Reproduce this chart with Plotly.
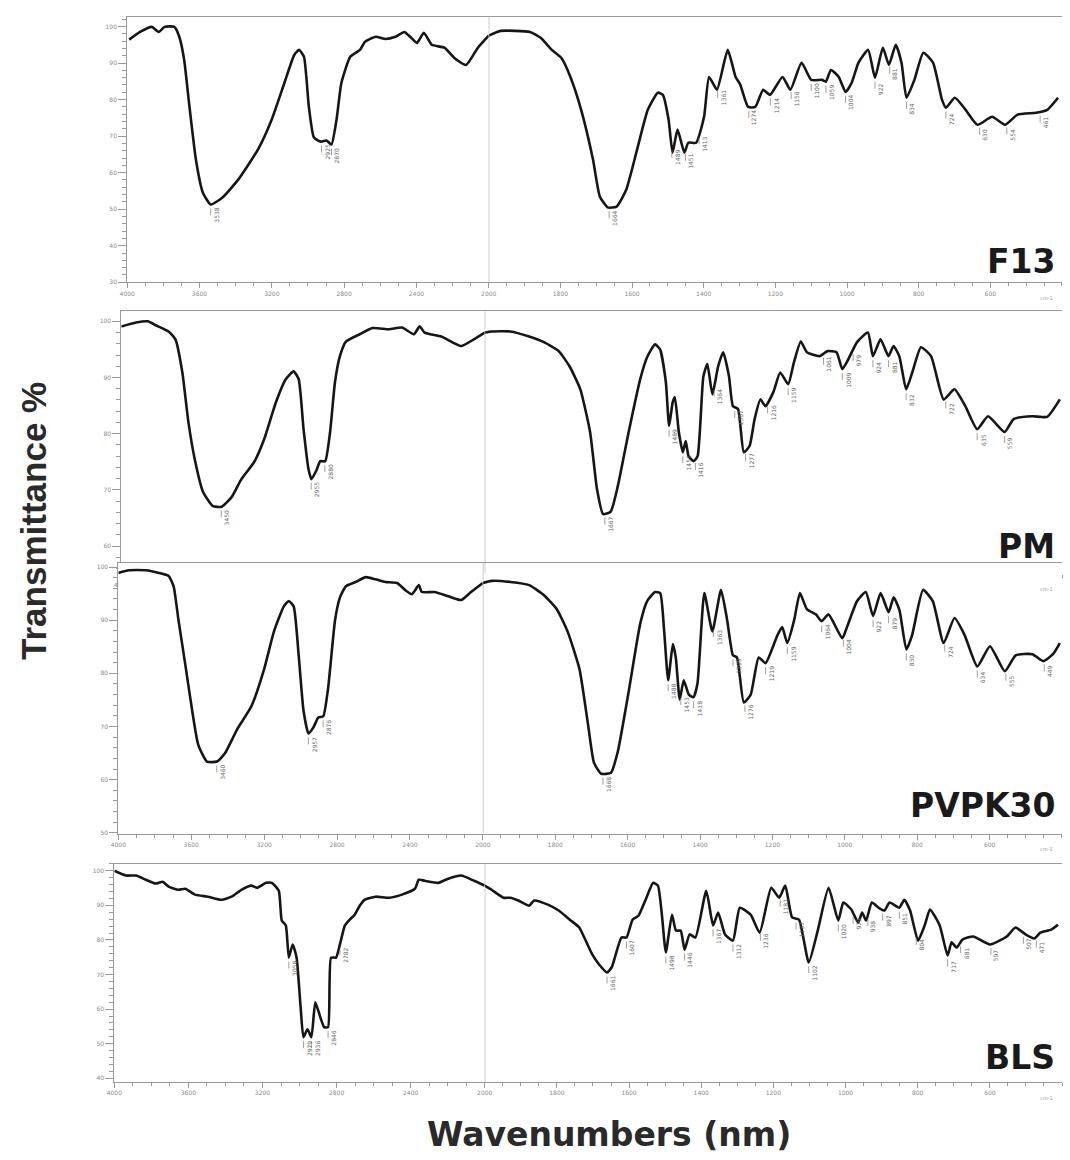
import numpy as np
import plotly.graph_objects as go

# ---------------- data (wavenumber cm-1, transmittance %) ----------------
f13_wn = [3989,3929,3864,3826,3793,3739,3712,3685,3658,3620,3582,3538,3473,3386,3277,3201,3130,3076,3049,3022,
          2995,2967,2929,2897,2870,2842,2815,2766,2712,2685,2625,2571,2516,2467,2435,2397,2359,2315,2245,2190,2125,2060,2000,
          1967,1885,1855,1824,1797,1772,1742,1709,1690,1668,1643,1616,1586,1556,1528,1514,1498,1487,1473,1454,1443,1421,
          1399,1385,1363,1333,1311,1298,1276,1256,1234,1215,1180,1158,1127,1100,1070,1059,1045,1023,1004,987,968,941,922,
          900,883,864,848,834,812,787,760,735,724,699,669,636,595,559,524,472,441,411]
f13_t = [96.4,98.5,99.9,98.5,99.9,99.9,97.2,90.9,79.1,63.6,54.6,51.3,53.2,58.1,66.3,74.5,84.6,92.2,93.6,91.7,
         78.0,69.6,68.5,68.8,67.7,74.5,84.6,91.7,93.6,95.8,97.2,96.6,97.2,98.5,97.2,95.5,98.3,95.0,94.2,91.4,89.5,94.2,97.5,
         98.8,98.5,96.9,93.6,91.4,86.2,77.2,63.6,53.5,50.5,50.7,55.4,66.3,77.2,81.9,81.3,74.5,65.5,71.8,65.5,68.2,68.2,
         75.3,86.2,82.7,93.6,86.2,84.1,78.0,78.0,82.7,81.3,86.2,82.7,90.1,85.4,85.4,84.9,88.1,86.2,82.1,84.6,90.1,93.6,86.0,
         94.2,89.5,95.0,90.1,80.5,85.4,92.8,90.1,80.0,77.8,80.5,77.2,73.1,75.3,73.1,75.9,76.4,77.2,80.5]
f13_peaks = [3538,2925,2870,1664,1489,1451,1413,1361,1274,1214,1156,1100,1059,1004,922,881,834,724,630,554,461]

pm_wn = [4000,3919,3854,3810,3740,3702,3664,3631,3593,3550,3496,3447,3393,3339,3268,3214,3149,3095,3052,3024,
         2997,2970,2954,2927,2905,2878,2851,2824,2797,2764,2688,2618,2526,2455,2390,2358,2331,2239,2130,2060,2000,
         1981,1929,1877,1836,1795,1765,1735,1708,1689,1672,1651,1631,1601,1569,1550,1528,1514,1498,1489,1479,
         1473,1462,1451,1443,1435,1421,1410,1394,1383,1369,1353,1339,1323,1312,1298,1282,1266,1252,1236,1222,
         1200,1181,1159,1143,1124,1107,1072,1050,1025,1009,995,968,938,924,903,881,867,851,832,815,
         791,763,728,698,668,635,605,559,534,482,441,406]
pm_t = [99.1,99.8,100.0,99.3,98.2,96.8,90.9,82.1,75.0,69.6,67.1,67.0,68.7,71.9,75.0,79.0,85.6,89.7,91.1,89.7,
        80.8,73.7,71.9,73.4,75.1,75.1,80.3,89.2,93.8,96.4,97.7,98.8,98.6,98.9,97.7,99.1,98.0,97.3,95.6,96.8,98.0,
        98.2,98.2,97.3,96.3,94.7,92.0,87.9,80.3,70.2,65.7,66.1,70.7,80.3,89.7,93.6,95.9,95.0,89.2,81.4,85.6,
        86.5,80.3,76.7,78.7,76.0,75.1,76.0,90.2,92.4,87.0,92.0,94.5,90.2,84.9,84.4,76.7,77.8,82.6,86.1,84.9,
        87.4,90.9,88.8,92.7,96.4,94.5,93.8,94.7,94.5,91.5,92.9,96.3,98.0,93.8,96.8,93.8,95.6,93.8,87.9,90.9,
        95.4,93.8,86.1,87.9,84.9,80.8,83.1,80.3,82.6,83.1,83.0,86.1]
pm_peaks = [3450,2955,2880,1667,1489,1451,1416,1364,1307,1277,1216,1159,1061,1009,979,924,881,832,722,635,559]

pvp_wn = [4000,3941,3849,3778,3724,3697,3670,3632,3595,3562,3514,3459,3416,3346,3270,3200,3146,3092,3065,3038,
          3011,2984,2957,2930,2903,2876,2849,2811,2784,2751,2697,2643,2589,2535,2470,2427,2389,2351,2335,2265,
          2189,2119,2065,2000,
          1976,1924,1872,1831,1796,1766,1733,1709,1693,1673,1646,1627,1597,1565,1546,1524,1510,1499,1488,1475,
          1467,1456,1445,1431,1418,1407,1388,1366,1342,1325,1309,1298,1279,1260,1238,1219,1186,1173,1159,1140,
          1124,1105,1080,1064,1045,1007,993,966,942,922,901,879,865,849,830,814,784,757,727,697,
          669,634,599,558,528,482,452,425,406]
pvp_t = [98.9,99.4,99.4,98.9,98.3,96.4,90.0,81.5,73.0,66.6,63.4,63.4,64.9,69.6,73.8,80.8,87.9,92.6,93.6,92.6,
         83.6,73.0,68.7,69.8,71.7,71.9,77.2,90.0,94.3,96.4,97.2,98.1,97.7,97.2,97.0,95.7,94.9,96.6,95.3,95.3,
         94.5,93.8,95.3,97.0,
         97.4,97.2,96.6,94.7,92.1,87.9,80.8,70.2,63.2,61.1,61.3,65.3,76.6,89.4,93.6,95.3,95.1,87.9,78.7,85.5,
         83.0,75.1,78.7,76.0,75.5,78.1,95.1,87.9,95.7,90.0,83.4,83.0,74.5,76.0,83.0,81.9,87.2,88.7,85.7,90.0,
         95.1,92.1,91.1,89.8,91.1,86.6,88.9,93.6,95.3,90.8,95.1,91.5,94.3,91.9,84.5,87.2,95.7,93.6,85.7,90.4,
         87.2,81.3,85.1,80.4,83.4,83.6,82.3,83.6,85.7]
pvp_peaks = [3460,2957,2876,1668,1488,1453,1418,1363,1309,1276,1219,1159,1064,1004,922,879,830,724,634,555,449]

bls_wn = [4000,3936,3883,3830,3777,3739,3707,3654,3617,3564,3495,3420,3367,3314,3261,3229,3181,3149,3112,3096,
          3074,3058,3037,3016,2994,2979,2957,2936,2915,2888,2867,2846,2830,2803,2782,2755,2729,2702,2675,2649,
          2590,2516,2447,2377,2356,2324,2250,2197,2127,2058,2000,
          1981,1948,1929,1907,1877,1863,1825,1795,1765,1738,1724,1702,1683,1661,1648,1621,1607,1590,1574,1555,
          1533,1520,1509,1498,1481,1470,1457,1446,1432,1416,1386,1367,1353,1334,1312,1293,1263,1238,1206,1184,
          1167,1148,1129,1102,1077,1047,1020,1006,984,965,954,943,927,908,892,878,851,837,821,799,
          780,766,739,717,706,692,676,646,600,553,529,501,477,460,430,411]
bls_t = [100.0,98.6,98.6,97.4,96.3,96.8,95.4,94.5,94.8,93.1,92.5,91.6,92.5,94.5,95.7,95.1,96.5,96.5,94.2,85.6,
         84.2,74.9,78.7,74.9,60.5,51.9,54.2,51.9,62.0,57.7,54.8,54.8,74.9,74.9,78.7,84.2,85.9,87.3,89.9,91.6,
         92.5,92.2,93.1,94.8,97.4,97.1,96.5,97.7,98.6,97.1,95.7,
         94.5,92.2,92.2,91.4,89.9,91.4,90.2,88.5,85.9,83.6,80.7,75.8,72.9,70.6,72.1,80.7,80.7,85.9,87.0,91.4,
         96.5,95.7,87.3,76.4,87.3,82.7,82.7,77.2,81.6,80.7,94.2,84.2,87.9,81.6,79.8,89.3,87.3,82.1,95.1,92.2,
         95.7,86.5,85.9,73.5,82.7,95.1,85.6,90.8,88.8,85.0,87.9,85.6,90.8,89.3,88.5,90.8,89.3,91.6,88.5,79.8,
         84.4,88.8,84.2,75.5,79.3,77.8,80.1,81.0,78.7,81.0,83.6,81.6,80.4,82.1,83.0,84.4]
bls_peaks = [3058,2979,2936,2846,2782,1661,1607,1498,1446,1367,1312,1236,1181,1137,1102,1020,979,938,897,851,
             804,717,681,597,507,471]

panel_names = ["F13", "PM", "PVPK30", "BLS"]
left_ticks = [4000, 3600, 3200, 2800, 2400, 2000]
right_ticks = [1800, 1600, 1400, 1200, 1000, 800, 600]
y_ticks = [[30, 40, 50, 60, 70, 80, 90, 100],
           [60, 70, 80, 90, 100],
           [50, 60, 70, 80, 90, 100],
           [40, 50, 60, 70, 80, 90, 100]]
y_ranges = [[30, 102.6], [55.1, 101.8], [49.8, 100.85], [38.9, 102.0]]

# ---------------- layout geometry ----------------
x_dom_left = [(0.1131, 0.4561), (0.1075, 0.4523), (0.1047, 0.4505), (0.1009, 0.4523)]
y_dom = [(0.756, 0.9853), (0.5043, 0.7310), (0.2793, 0.5138), (0.0647, 0.2534)]
label_y = [0.774, 0.528, 0.3034, 0.0862]

datasets = [(f13_wn, f13_t, f13_peaks), (pm_wn, pm_t, pm_peaks),
            (pvp_wn, pvp_t, pvp_peaks), (bls_wn, bls_t, bls_peaks)]

AX = "#9a9a9a"
TICKFONT = dict(family="DejaVu Sans", size=6, color="#8a8a8a")
LINE = dict(color="#161616", width=2.6, shape="spline", smoothing=0.5)

fig = go.Figure()
layout = {}
annotations = []
shapes = []


def ref(p, i):
    return p if i == 1 else f"{p}{i}"


for k in range(4):
    wn, t, peaks = datasets[k]
    wn = np.array(wn, dtype=float)
    t = np.array(t, dtype=float)
    yi = k + 1
    xl = 2 * k + 1
    xr = 2 * k + 2
    lmask = wn >= 2000
    rmask = wn <= 2000
    fig.add_trace(go.Scatter(x=wn[lmask], y=t[lmask], mode="lines", line=LINE,
                             xaxis=ref("x", xl), yaxis=ref("y", yi), showlegend=False, hoverinfo="skip"))
    fig.add_trace(go.Scatter(x=wn[rmask], y=t[rmask], mode="lines", line=LINE,
                             xaxis=ref("x", xr), yaxis=ref("y", yi), showlegend=False, hoverinfo="skip"))

    d0, d1 = x_dom_left[k]
    common_x = dict(showgrid=False, zeroline=False, showline=True, linecolor=AX, linewidth=1,
                    mirror=True, ticks="outside", ticklen=5, tickcolor=AX, tickfont=TICKFONT,
                    anchor=ref("y", yi))
    layout[ref("xaxis", xl)] = dict(common_x, domain=[d0, d1], range=[4000, 2000],
                                    tickvals=left_ticks, ticktext=[str(v) for v in left_ticks],
                                    minor=dict(ticks="outside", ticklen=3, tickcolor=AX, dtick=100))
    layout[ref("xaxis", xr)] = dict(common_x, domain=[d1, 1.0], range=[2000, 400],
                                    tickvals=right_ticks, ticktext=[str(v) for v in right_ticks],
                                    minor=dict(ticks="outside", ticklen=3, tickcolor=AX, dtick=50))
    layout[ref("yaxis", yi)] = dict(domain=list(y_dom[k]), range=y_ranges[k], anchor=ref("x", xl),
                                    showgrid=False, zeroline=False, showline=True, linecolor=AX,
                                    linewidth=1, ticks="outside", ticklen=8, tickcolor=AX,
                                    tickvals=y_ticks[k], tickfont=TICKFONT,
                                    minor=dict(ticks="outside", ticklen=4, tickcolor=AX, dtick=2))

    # divider at 2000 cm-1
    shapes.append(dict(type="line", xref=ref("x", xr), yref=ref("y", yi) + " domain",
                       x0=2000, x1=2000, y0=0, y1=1, line=dict(color="#8f8f8f", width=1)))

    # peak labels
    for p in peaks:
        tv = float(np.interp(p, wn[::-1], t[::-1]))
        annotations.append(dict(x=p, y=tv, xref=ref("x", xl if p > 2000 else xr), yref=ref("y", yi),
                                text=str(p), textangle=-90, showarrow=True, arrowhead=0,
                                arrowwidth=0.7, arrowcolor="#777", ax=0, ay=11, standoff=4,
                                yanchor="top", font=dict(family="DejaVu Sans", size=6, color="#666")))

    # panel name
    annotations.append(dict(x=0.995, y=label_y[k], xref="paper", yref="paper", xanchor="right",
                            yanchor="middle", showarrow=False, text=f"<b>{panel_names[k]}</b>",
                            font=dict(family="DejaVu Sans", size=33, color="#1a1a1a")))
    # unit tag
    annotations.append(dict(x=0.993, y=y_dom[k][0] - 0.009, xref="paper", yref="paper",
                            xanchor="right", yanchor="top", showarrow=False, text="cm-1",
                            font=dict(family="DejaVu Sans", size=5, color="#999")))

annotations.append(dict(x=0.024, y=0.55, xref="paper", yref="paper", textangle=-90,
                        xanchor="center", yanchor="middle",
                        showarrow=False, text="<b>Transmittance %</b>",
                        font=dict(family="Liberation Sans", size=35, color="#2a2a2a")))
annotations.append(dict(x=0.570, y=0.0198, xref="paper", yref="paper", showarrow=False,
                        xanchor="center", yanchor="middle",
                        text="<b>Wavenumbers (nm)</b>",
                        font=dict(family="DejaVu Sans", size=33, color="#2a2a2a")))

fig.update_layout(width=1070, height=1160, margin=dict(l=0, r=0, t=0, b=0),
                  paper_bgcolor="white", plot_bgcolor="white",
                  annotations=annotations, shapes=shapes, **layout)

fig.write_html("out.html", config={"displayModeBar": False},
               post_script="document.body.style.margin='0';")
